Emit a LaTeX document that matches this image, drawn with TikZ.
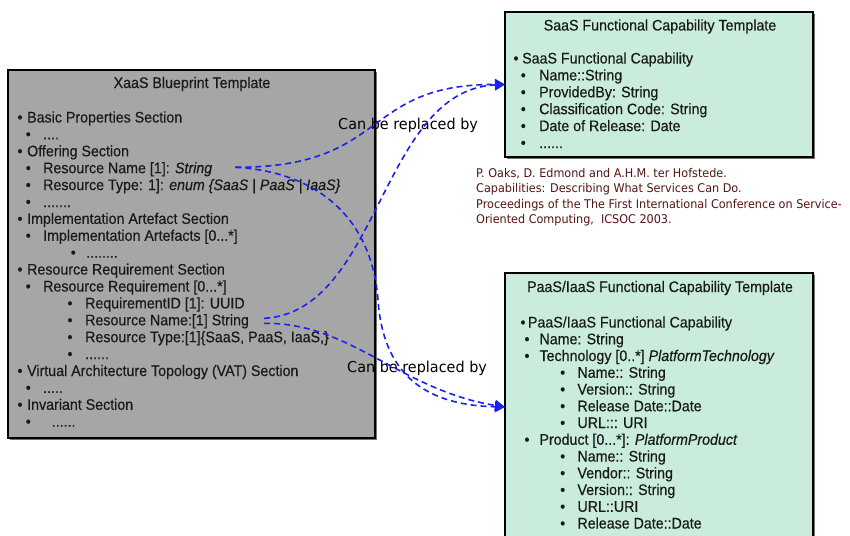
\documentclass[tikz,border=0pt]{standalone}
\usepackage{fontspec}
\setmainfont[FakeStretch=0.93,FakeBold=0.3]{Liberation Sans}
\newfontfamily\labelfont[FakeStretch=0.96]{DejaVu Sans}
\newfontfamily\citefont[FakeStretch=0.935]{DejaVu Sans}
\usetikzlibrary{arrows.meta,shadows}
\definecolor{boxgray}{RGB}{166,166,166}
\definecolor{mint}{RGB}{201,236,221}
\definecolor{linkblue}{RGB}{25,35,235}
\definecolor{citered}{RGB}{85,20,20}
% bullet followed by a fixed gap before the entry text
\newcommand\bul[1]{\makebox[#1][l]{\textbullet}}
\begin{document}
\begin{tikzpicture}[x=1pt,y=-1pt,
  panel/.style={draw=black, line width=2.4pt, inner sep=0pt, outer sep=0pt,
    drop shadow={shadow xshift=2.2pt, shadow yshift=-2.2pt, fill=black!55, opacity=1}},
  row/.style={inner sep=0pt, anchor=base west, text=black!90, font=\fontsize{15.3}{17}\selectfont},
  heading/.style={inner sep=0pt, anchor=base, text=black!90, font=\fontsize{15.3}{17}\selectfont},
  cite/.style={inner sep=0pt, anchor=base west, text=citered, font=\citefont\fontsize{12}{14}\selectfont},
  replabel/.style={inner sep=0pt, anchor=base west, font=\labelfont\fontsize{15}{17}\selectfont},
  link/.style={draw=linkblue, line width=1.6pt, dash pattern=on 6pt off 4pt,
    -{Triangle[length=10pt,width=11pt]}}]
\useasboundingbox (0,0) rectangle (850,535);

% ---------- panels ----------
\node[panel, fill=boxgray, minimum width=367pt, minimum height=368pt] (xaas) at (191.5,254) {};
\node[panel, fill=mint, minimum width=308pt, minimum height=145pt] (saas) at (659,84.5) {};
\node[panel, fill=mint, minimum width=308pt, minimum height=268pt] (paas) at (659,407) {};

% ---------- XaaS blueprint ----------
\node[heading] (xt) at (192,88) {XaaS Blueprint Template};
\node[row] (l0)  at (17.3,122.5) {\bul{9.7pt}Basic Properties Section};
\node[row] (l1)  at (25.6,139.4) {\bul{17.4pt}....};
\node[row] (l2)  at (17.3,156.3) {\bul{9.7pt}Offering Section};
\node[row] (l3)  at (25.6,173.2) {\bul{17.4pt}Resource Name [1]: \textit{String}};
\node[row] (l4)  at (25.6,190.1) {\bul{17.4pt}Resource Type: 1]: \textit{enum \{SaaS | PaaS | IaaS\}}};
\node[row] (l5)  at (25.6,207.0) {\bul{17.4pt}.......};
\node[row] (l6)  at (17.3,223.9) {\bul{9.7pt}Implementation Artefact Section};
\node[row] (l7)  at (25.6,240.8) {\bul{17.4pt}Implementation Artefacts [0...*]};
\node[row] (l8)  at (70.6,257.7) {\bul{15.4pt}........};
\node[row] (l9)  at (17.3,274.6) {\bul{9.7pt}Resource Requirement Section};
\node[row] (l10) at (25.6,291.5) {\bul{17.4pt}Resource Requirement [0...*]};
\node[row] (l11) at (67.3,308.4) {\bul{17.7pt}RequirementID [1]: UUID};
\node[row] (l12) at (67.3,325.3) {\bul{17.7pt}Resource Name:[1] String};
\node[row] (l13) at (67.3,342.2) {\bul{17.7pt}Resource Type:[1]\{SaaS, PaaS, IaaS,\}};
\node[row] (l14) at (67.3,359.1) {\bul{17.7pt}......};
\node[row] (l15) at (17.3,376.0) {\bul{9.7pt}Virtual Architecture Topology (VAT) Section};
\node[row] (l16) at (25.6,392.9) {\bul{17.4pt}.....};
\node[row] (l17) at (17.3,409.8) {\bul{9.7pt}Invariant Section};
\node[row] (l18) at (25.6,426.7) {\bul{26pt}......};

% ---------- SaaS capability ----------
\node[heading] (st) at (660,30.5) {SaaS Functional Capability Template};
\node[row] (s0) at (513.3,63.5)  {\bul{8.7pt}SaaS Functional Capability};
\node[row] (s1) at (520.6,80.4)  {\bul{18.4pt}Name::String};
\node[row] (s2) at (520.6,97.3)  {\bul{18.4pt}ProvidedBy: String};
\node[row] (s3) at (520.6,114.2) {\bul{18.4pt}Classification Code: String};
\node[row] (s4) at (520.6,131.1) {\bul{18.4pt}Date of Release: Date};
\node[row] (s5) at (520.6,148.0) {\bul{18.4pt}......};

% ---------- reference ----------
\node[cite] (c0) at (476,177)   {P. Oaks, D. Edmond and A.H.M. ter Hofstede.};
\node[cite] (c1) at (476,192.5) {Capabilities: Describing What Services Can Do.};
\node[cite] (c2) at (476,208)   {Proceedings of the The First International Conference on Service-};
\node[cite] (c3) at (476,223.5) {Oriented Computing,\ \ ICSOC 2003.};

% ---------- PaaS/IaaS capability ----------
\node[heading] (pt) at (660,292) {PaaS/IaaS Functional Capability Template};
\node[row] (p0)  at (520.3,327.5)  {\bul{7.5pt}PaaS/IaaS Functional Capability};
\node[row] (p1)  at (524.3,344.25) {\bul{15pt}Name: String};
\node[row] (p2)  at (524.3,361)    {\bul{15pt}Technology [0..*] \textit{PlatformTechnology}};
\node[row] (p3)  at (560,377.75)   {\bul{17.3pt}Name:: String};
\node[row] (p4)  at (560,394.5)    {\bul{17.3pt}Version:: String};
\node[row] (p5)  at (560,411.25)   {\bul{17.3pt}Release Date::Date};
\node[row] (p6)  at (560,428)      {\bul{17.3pt}URL::: URI};
\node[row] (p7)  at (524.3,444.75) {\bul{15pt}Product [0...*]: \textit{PlatformProduct}};
\node[row] (p8)  at (560,461.5)    {\bul{17.3pt}Name:: String};
\node[row] (p9)  at (560,478.25)   {\bul{17.3pt}Vendor:: String};
\node[row] (p10) at (560,495)      {\bul{17.3pt}Version:: String};
\node[row] (p11) at (560,511.75)   {\bul{17.3pt}URL::URI};
\node[row] (p12) at (560,528.5)    {\bul{17.3pt}Release Date::Date};

% ---------- replacement links ----------
\node[replabel] (r1) at (338,129) {Can be replaced by};
\node[replabel] (r2) at (347,372) {Can be replaced by};

\draw[link] ([xshift=23pt,yshift=2pt]l3.east) .. controls (390,168) and (360,84) .. (saas.west);
\draw[link] ([xshift=23pt,yshift=2pt]l3.east) .. controls (320,172) and (372,220) .. (378,300)
  .. controls (383,370) and (420,405) .. (paas.west);
\draw[link] ([xshift=15pt,yshift=3pt]l12.east) .. controls (380,312) and (380,90) .. (saas.west);
\draw[link] ([xshift=15pt,yshift=-2pt]l12.east) .. controls (350,322) and (400,390) .. (paas.west);
\end{tikzpicture}
\end{document}
